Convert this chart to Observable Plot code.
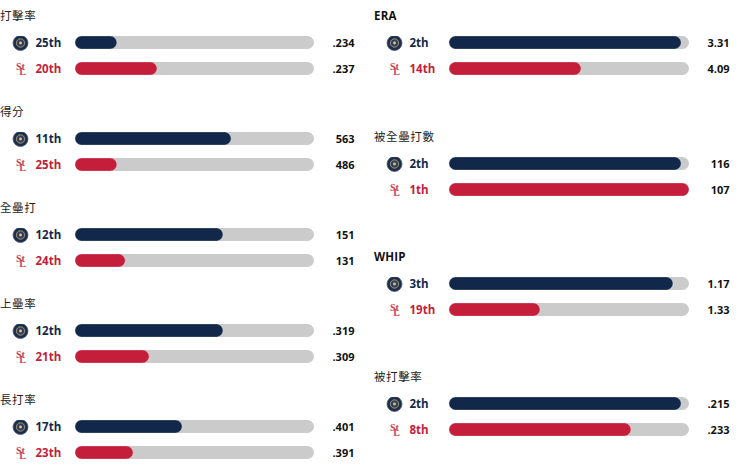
<!DOCTYPE html>
<html><head><meta charset="utf-8">
<script src="https://cdn.jsdelivr.net/npm/d3@7"></script>
<script src="https://cdn.jsdelivr.net/npm/@observablehq/plot@0.6"></script>
<style>
html,body{margin:0;padding:0;background:#fff;width:740px;height:473px;overflow:hidden}
#root{position:relative;width:740px;height:473px}
.col{position:absolute;top:0}
.group .t{height:36px;box-sizing:border-box;padding-top:7px;line-height:17px;font-size:11.5px;color:#222;letter-spacing:.6px;font-family:"Noto Sans CJK TC","Noto Sans",sans-serif}
.group .t.en{font-family:"Open Sans",sans-serif;font-weight:700;color:#111;letter-spacing:.2px}
svg{display:block}
</style></head>
<body><div id="root"></div>
<script>
const teams = ["Brewers", "Cardinals"];
const leftTitles = ["打擊率", "得分", "全壘打", "上壘率", "長打率"];
const leftRanks = [["25th","20th"],["11th","25th"],["12th","24th"],["12th","21th"],["17th","23th"]];
const leftValues = [[".234",".237"],["563","486"],["151","131"],["319","309"].map(d=>"."+d),["401","391"].map(d=>"."+d)];
const leftFill = [[17.5,34.3],[65.3,17.5],[61.9,21],[61.9,31],[44.8,24.3]];
const rightTitles = ["ERA", "被全壘打數", "WHIP", "被打擊率"];
const rightRanks = [["2th","14th"],["2th","1th"],["3th","19th"],["2th","8th"]];
const rightValues = [["3.31","4.09"],["116","107"],["1.17","1.33"],[".215",".233"]];
const rightFill = [[96.7,55],[96.7,100],[93.3,37.9],[96.7,75.8]];
const colors = {Brewers:"#12284b", Cardinals:"#c41e3a"};
const font = '"Open Sans",sans-serif';

function panel(ranks, values, fill, width, right) {
  const rows = teams.map((team,i)=>({team, rank:ranks[i], value:values[i], fill:fill[i]}));
  const brewers = rows.filter(d=>d.team==="Brewers");
  const cards = rows.filter(d=>d.team==="Cardinals");
  return Plot.plot({
    width, height:39, margin:0,
    x:{domain:[0,100], range:[75,right], axis:null},
    y:{type:"band", domain:teams, range:[0,39], paddingInner:.5, paddingOuter:0, axis:null},
    marks:[
      Plot.barX(rows,{x1:0,x2:100,y:"team",fill:"#cbcbcb",rx:6.5}),
      Plot.barX(rows,{x1:0,x2:"fill",y:"team",fill:d=>colors[d.team],rx:6.5,stroke:"#fff",strokeOpacity:.5,strokeWidth:.5}),
      Plot.text(rows,{x:0,y:"team",text:"rank",dx:-40,textAnchor:"start",fill:d=>colors[d.team],fontSize:11.5,fontWeight:700,fontFamily:font}),
      Plot.text(rows,{x:100,y:"team",text:"value",dx:right===314?40:40,textAnchor:"end",fill:"#111",fontSize:11,fontWeight:700,fontFamily:font}),
      // Brewers badge
      Plot.dot(brewers,{x:0,y:"team",dx:-55,r:7.5,fill:"#1d2c4a",stroke:"#4a5a78",strokeWidth:.8}),
      Plot.dot(brewers,{x:0,y:"team",dx:-55,r:4.2,fill:"#33415e",stroke:"#b9ad7a",strokeWidth:.8}),
      Plot.dot(brewers,{x:0,y:"team",dx:-55,r:1.4,fill:"#d8c98a"}),
      // Cardinals monogram
      Plot.text(cards,{x:0,y:"team",text:()=>"St",dx:-55,dy:-2,fill:"#c9405a",fontSize:10,fontWeight:700,fontFamily:"Liberation Serif"}),
      Plot.text(cards,{x:0,y:"team",text:()=>"L",dx:-53,dy:3,fill:"#c9405a",fontSize:10,fontWeight:700,fontFamily:"Liberation Serif"})
    ]
  });
}

function column(titles, ranks, values, fill, left, width, groupH, right) {
  const col = document.createElement("div");
  col.className = "col"; col.style.left = left+"px"; col.style.width = width+"px";
  titles.forEach((t,i)=>{
    const g = document.createElement("div");
    g.className = "group"; g.style.height = groupH[i]+"px";
    const h = document.createElement("div");
    h.className = "t"+(/^[A-Z]+$/.test(t)?" en":""); h.textContent = t;
    g.appendChild(h);
    g.appendChild(panel(ranks[i], values[i], fill[i], width, right));
    col.appendChild(g);
  });
  document.getElementById("root").appendChild(col);
}
column(leftTitles,leftRanks,leftValues,leftFill,0,374,[96,96,96,96,96],314);
column(rightTitles,rightRanks,rightValues,rightFill,374,366,[121,119.5,120,120],315);
</script></body></html>
